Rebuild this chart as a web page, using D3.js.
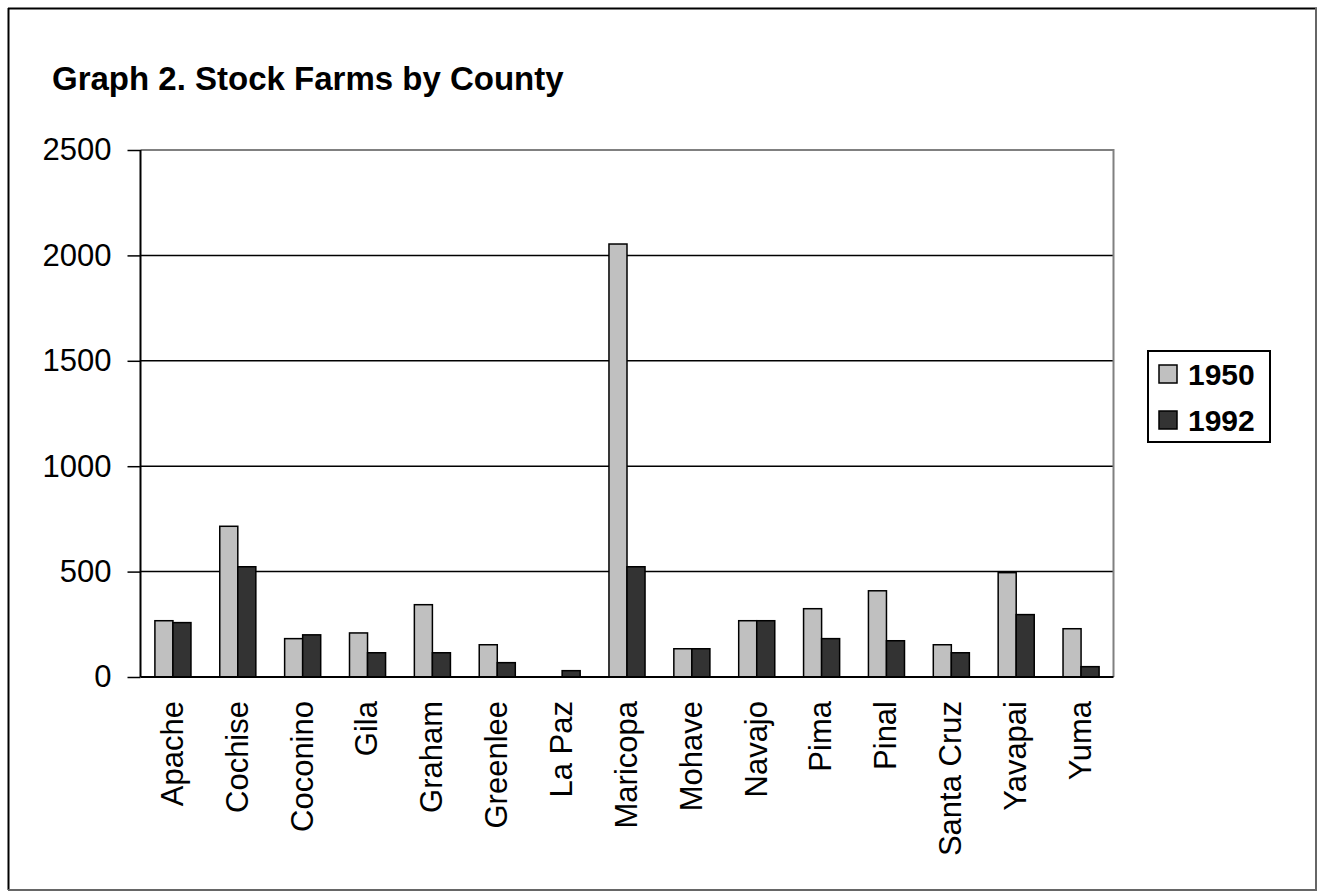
<!DOCTYPE html>
<html>
<meta charset="utf-8">
<title>Stock Farms by County</title>
<style>
  body { margin: 0; background: #fff; }
  svg text { font-family: Arial, "Liberation Sans", sans-serif; fill: #000; }
  .grid line { stroke: #000; stroke-width: 1.5; }
  .bar { stroke: #000; stroke-width: 1.5; }
</style>
<body>
<script src="https://d3js.org/d3.v7.min.js"></script>
<script>
// data
var counties = ["Apache", "Cochise", "Coconino", "Gila", "Graham", "Greenlee", "La Paz",
                "Maricopa", "Mohave", "Navajo", "Pima", "Pinal", "Santa Cruz", "Yavapai", "Yuma"];
var years = ["1950", "1992"];
var farms1950 = [267, 715, 182, 209, 343, 153, 0, 2054, 134, 267, 324, 409, 153, 495, 229];
var farms1992 = [258, 523, 200, 115, 115, 68, 30, 523, 134, 267, 182, 172, 115, 296, 49];
var yTicks = [0, 500, 1000, 1500, 2000, 2500];
var barColors = ["#c0c0c0", "#333333"];

var W = 1317, H = 891;
var plot = {left: 140.5, right: 1113.5, top: 150, bottom: 677};

var svg = d3.select("body").append("svg")
    .attr("width", W)
    .attr("height", H);

// outer frame
svg.append("line").attr("x1", 8.5).attr("y1", 8).attr("x2", 8.5).attr("y2", 890)
    .attr("stroke", "#000").attr("stroke-width", 2);
svg.append("line").attr("x1", 8).attr("y1", 8.5).attr("x2", 1317).attr("y2", 8.5)
    .attr("stroke", "#000").attr("stroke-width", 2);
svg.append("line").attr("x1", 8).attr("y1", 890).attr("x2", 1317).attr("y2", 890)
    .attr("stroke", "#666").attr("stroke-width", 2);
svg.append("line").attr("x1", 1316).attr("y1", 8).attr("x2", 1316).attr("y2", 890)
    .attr("stroke", "#666").attr("stroke-width", 2);

svg.append("text")
    .attr("x", 52)
    .attr("y", 90)
    .style("font-size", "33px")
    .style("font-weight", "bold")
    .text("Graph 2. Stock Farms by County");

var y = d3.scaleLinear().domain([0, 2500]).range([plot.bottom, plot.top]);

var x = d3.scaleBand()
    .domain(counties)
    .range([plot.left, plot.right])
    .paddingInner(0.444)
    .paddingOuter(0.222);

var x1 = d3.scaleBand().domain(years).range([0, x.bandwidth()]);

// gridlines
svg.append("g").attr("class", "grid")
  .selectAll("line")
    .data(yTicks.filter(function(d) { return d > 0 && d < 2500; }))
  .enter().append("line")
    .attr("x1", plot.left).attr("x2", plot.right)
    .attr("y1", function(d) { return y(d); })
    .attr("y2", function(d) { return y(d); });

// plot area top and right border (gray)
svg.append("path")
    .attr("d", "M" + plot.left + "," + y(2500) + "H" + plot.right + "V" + plot.bottom)
    .attr("fill", "none")
    .attr("stroke", "#808080")
    .attr("stroke-width", 2);

// bars
var rows = counties.map(function(c, i) {
  return {county: c, values: [farms1950[i], farms1992[i]]};
});

var groups = svg.append("g").selectAll("g")
    .data(rows)
  .enter().append("g")
    .attr("transform", function(d) { return "translate(" + x(d.county) + ",0)"; });

groups.selectAll("rect")
    .data(function(d) { return d.values.map(function(v, j) { return {year: years[j], v: v, j: j}; }); })
  .enter().filter(function(d) { return d.v > 0; }).append("rect")
    .attr("class", "bar")
    .attr("x", function(d) { return x1(d.year); })
    .attr("width", x1.bandwidth())
    .attr("y", function(d) { return y(d.v); })
    .attr("height", function(d) { return plot.bottom - y(d.v); })
    .attr("fill", function(d) { return barColors[d.j]; });

// y axis
var yAxis = svg.append("g")
    .attr("transform", "translate(" + plot.left + ",0)")
    .call(d3.axisLeft(y).tickValues(yTicks).tickSize(13).tickPadding(16).tickFormat(d3.format("d")));
yAxis.select(".domain").attr("stroke", "#000").attr("stroke-width", 2).attr("d", "M0," + plot.top + "V" + plot.bottom);
yAxis.selectAll(".tick line").attr("stroke", "#000").attr("stroke-width", 1.5);
yAxis.selectAll(".tick text")
    .attr("fill", "#000")
    .style("font-size", "31px")
    .style("font-family", "Arial, 'Liberation Sans', sans-serif");

// x axis
var xAxis = svg.append("g")
    .attr("transform", "translate(0," + plot.bottom + ")")
    .call(d3.axisBottom(x).tickSize(0).tickPadding(0));
xAxis.select(".domain").attr("stroke", "#000").attr("stroke-width", 2)
    .attr("d", "M" + plot.left + ",0H" + plot.right);
xAxis.selectAll(".tick text")
    .attr("fill", "#000")
    .attr("transform", "rotate(-90)")
    .attr("x", -24)
    .attr("y", -1)
    .attr("dy", "0.35em")
    .style("text-anchor", "end")
    .style("font-size", "31px")
    .style("font-family", "Arial, 'Liberation Sans', sans-serif");

// legend
var legend = svg.append("g");
legend.append("rect")
    .attr("x", 1148).attr("y", 351)
    .attr("width", 122).attr("height", 91)
    .attr("fill", "#fff")
    .attr("stroke", "#000")
    .attr("stroke-width", 2);

var items = legend.selectAll("g.item")
    .data(years)
  .enter().append("g")
    .attr("class", "item")
    .attr("transform", function(d, i) { return "translate(1159," + (365 + i * 46) + ")"; });

items.append("rect")
    .attr("width", 18).attr("height", 18)
    .attr("fill", function(d, i) { return barColors[i]; })
    .attr("stroke", "#000")
    .attr("stroke-width", 1.5);

items.append("text")
    .attr("x", 29)
    .attr("y", 9)
    .attr("dy", "0.36em")
    .style("font-size", "30px")
    .style("font-weight", "bold")
    .text(function(d) { return d; });
</script>
</body>
</html>
